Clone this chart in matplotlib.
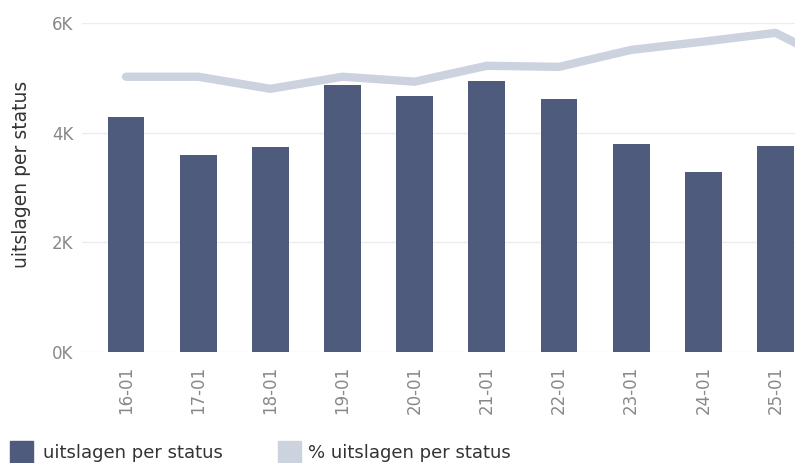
import numpy as np
import matplotlib.pyplot as plt
from matplotlib.patches import Rectangle

dates = ["16-01", "17-01", "18-01", "19-01", "20-01", "21-01", "22-01", "23-01", "24-01", "25-01"]
bar_vals = [4290, 3600, 3740, 4870, 4670, 4950, 4620, 3800, 3280, 3760]
# line keeps going past the right edge of the crop
line_dates = dates + ["26-01"]
line_vals = [5020, 5020, 4800, 5020, 4930, 5220, 5200, 5510, 5660, 5820, 5160]

BAR_C = "#4f5b7c"
LINE_C = "#ccd2de"
TXT_C = "#888888"

fig = plt.figure(figsize=(7.95, 4.63), dpi=100)
ax = fig.add_axes([82 / 795, 111 / 463, 713 / 795, 329 / 463])

x = np.arange(len(dates))
xl = np.arange(len(line_dates))
ax.bar(x, bar_vals, width=0.51, color=BAR_C, zorder=2)
ax.plot(xl, line_vals, color=LINE_C, lw=6, solid_capstyle="round", zorder=3)

ax.set_xlim(-0.61, 9.27)
ax.set_ylim(0, 6000)
ax.set_yticks([0, 2000, 4000, 6000])
ax.set_yticklabels(["0K", "2K", "4K", "6K"])
ax.set_xticks(x)
ax.set_xticklabels(dates, rotation=90)
ax.tick_params(axis="both", length=0, labelsize=12, labelcolor=TXT_C)
ax.tick_params(axis="x", pad=10)
ax.tick_params(axis="y", pad=6)
ax.yaxis.grid(True, color="#ececec", lw=1, zorder=0)
for s in ax.spines.values():
    s.set_visible(False)
ax.set_ylabel("uitslagen per status", fontsize=13.5, color="#333333")
ax.yaxis.set_label_coords(-0.072, 0.54)

# legend at the bottom
fig.add_artist(Rectangle((10 / 795, 0), 23 / 795, 22 / 463, transform=fig.transFigure,
                         color=BAR_C))
fig.text(43 / 795, 10 / 463, "uitslagen per status", fontsize=13, color="#333333",
         va="center")
fig.add_artist(Rectangle((278 / 795, 0), 23 / 795, 22 / 463, transform=fig.transFigure,
                         color=LINE_C))
fig.text(308 / 795, 10 / 463, "% uitslagen per status", fontsize=13, color="#333333",
         va="center")

fig.savefig("out.png", dpi=100)
